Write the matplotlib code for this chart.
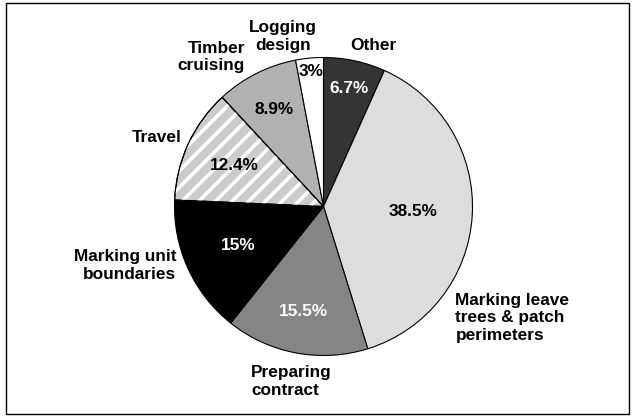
import numpy as np
import matplotlib
matplotlib.use("Agg")
import matplotlib.pyplot as plt
from matplotlib.patches import Wedge, Rectangle

# ---- data (clockwise from 12 o'clock) ----
categories = ["Other", "Marking leave\ntrees & patch\nperimeters", "Preparing\ncontract",
              "Marking unit\nboundaries", "Travel", "Timber\ncruising", "Logging\ndesign"]
values = [6.7, 38.5, 15.5, 15.0, 12.4, 8.9, 3.0]
pct_labels = ["6.7%", "38.5%", "15.5%", "15%", "12.4%", "8.9%", "3%"]

# ---- styles ----
colors = ["#343434", "#dddddd", "#858585", "#000000", "#cbcbcb", "#b1b1b1", "#ffffff"]
pct_colors = ["white", "black", "white", "white", "black", "black", "black"]
pct_dist = [0.81, 0.605, 0.72, 0.626, 0.658, 0.732, 0.912]
# outer label: (radial distance, angle offset deg, ha)
lab_pos = [(1.132, -5.2, "center"), (1.158, -36.7, "left"), (1.27, -11.8, "left"),
           (1.066, -2.7, "right"), (1.058, -1.3, "right"), (1.133, 0.9, "right"),
           (1.173, 8.0, "center")]

W, H = 634, 416
fig = plt.figure(figsize=(W / 100, H / 100), dpi=100)
ax = fig.add_axes([0, 0, 1, 1])

cx, cy, R = 323.5, H - 206.5, 149
FONT = dict(family=["Liberation Sans", "DejaVu Sans"], fontweight="bold", fontsize=12.4)

wedges, _ = ax.pie(values, colors=colors, startangle=90, counterclock=False,
                   center=(cx, cy), radius=R, frame=True,
                   wedgeprops=dict(edgecolor="black", linewidth=0.8))
ax.set_xlim(0, W)
ax.set_ylim(0, H)
ax.set_aspect("equal")
ax.axis("off")

# hatch overlay on Travel slice
tw = wedges[4]
plt.rcParams["hatch.linewidth"] = 2.6
hatch = Wedge(tw.center, tw.r, tw.theta1, tw.theta2, facecolor="none",
              edgecolor="white", linewidth=0, hatch="//", zorder=tw.get_zorder() + 0.1)
ax.add_patch(hatch)
outline = Wedge(tw.center, tw.r, tw.theta1, tw.theta2, facecolor="none",
                edgecolor="black", linewidth=0.8, zorder=tw.get_zorder() + 0.2)
ax.add_patch(outline)

for i, w in enumerate(wedges):
    mid = np.deg2rad((w.theta1 + w.theta2) / 2)
    d = pct_dist[i] * R
    ax.text(cx + d * np.cos(mid), cy + d * np.sin(mid), pct_labels[i],
            ha="center", va="center", color=pct_colors[i], zorder=5, **FONT)
    ld, off, ha = lab_pos[i]
    a = mid + np.deg2rad(off)
    ax.text(cx + ld * R * np.cos(a), cy + ld * R * np.sin(a), categories[i],
            ha=ha, va="center", multialignment=ha, linespacing=1.2,
            color="black", zorder=5, **FONT)

fig.patches.append(Rectangle((5.5 / W, 2.5 / H), 623.5 / W, 410.5 / H,
                             transform=fig.transFigure, fill=False,
                             edgecolor="black", linewidth=1.0))

fig.savefig("out.png", dpi=100)
